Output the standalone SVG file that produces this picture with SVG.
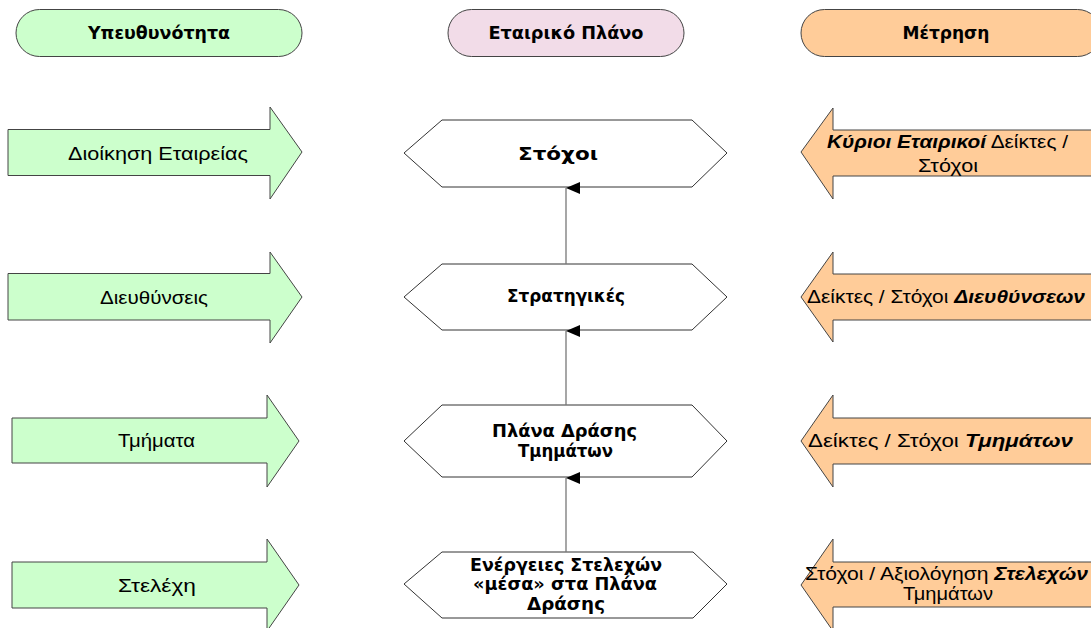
<svg xmlns="http://www.w3.org/2000/svg" width="1091" height="628" viewBox="0 0 1091 628">
<defs>
<marker id="ah" markerWidth="12" markerHeight="14" refX="6" refY="0" orient="auto" markerUnits="userSpaceOnUse" viewBox="0 0 12 14">
<path d="M0,14 L6,0 L12,14 Z" fill="#000"/>
</marker>
<style>
.t{fill:#000;}
.hdr,.hx{font-family:"DejaVu Sans","Liberation Sans",sans-serif;font-size:17px;font-weight:bold;text-anchor:middle;}
.ar{font-family:"Liberation Sans",Arial,sans-serif;font-size:18px;text-anchor:middle;}
.bi{font-weight:bold;font-style:italic;}
.green{fill:#CCFFCC;stroke:#444;stroke-width:1;}
.pink{fill:#F2DCE8;stroke:#444;stroke-width:1;}
.orange{fill:#FFCC99;stroke:#444;stroke-width:1;}
.hex{fill:#fff;stroke:#333;stroke-width:1;}
.conn{stroke:#777;stroke-width:1.3;fill:none;}
</style>
</defs>
<rect width="1091" height="628" fill="#fff"/>

<g id="hdr-responsibility">
<rect class="green" x="16" y="9.5" width="286" height="47" rx="23.5"/>
<text class="t hdr" x="159" y="38.5" textLength="142" lengthAdjust="spacingAndGlyphs">Υπευθυνότητα</text>
</g>
<g id="hdr-plan">
<rect class="pink" x="448" y="9.5" width="236" height="47" rx="23.5"/>
<text class="t hdr" x="566" y="38.5" textLength="155" lengthAdjust="spacingAndGlyphs">Εταιρικό Πλάνο</text>
</g>
<g id="hdr-measure">
<rect class="orange" x="801" y="9.5" width="300" height="47" rx="23.5"/>
<text class="t hdr" x="946" y="38.5" textLength="87" lengthAdjust="spacingAndGlyphs">Μέτρηση</text>
</g>

<g id="resp-1">
<path class="green" d="M8,129.5 H270 V107 L302,152 L270,199 V175.5 H8 Z"/>
<text class="t ar" x="158" y="160" textLength="180" lengthAdjust="spacingAndGlyphs">Διοίκηση Εταιρείας</text>
</g>
<g id="resp-2">
<path class="green" d="M8,273.5 H270 V252 L302,297 L270,343 V320 H8 Z"/>
<text class="t ar" x="154" y="304" textLength="108" lengthAdjust="spacingAndGlyphs">Διευθύνσεις</text>
</g>
<g id="resp-3">
<path class="green" d="M12,418 H267 V395 L299,441 L267,487 V463 H12 Z"/>
<text class="t ar" x="156.5" y="447" textLength="77" lengthAdjust="spacingAndGlyphs">Τμήματα</text>
</g>
<g id="resp-4">
<path class="green" d="M12,562 H267 V539 L299,585 L267,631 V608 H12 Z"/>
<text class="t ar" x="157" y="592" textLength="78" lengthAdjust="spacingAndGlyphs">Στελέχη</text>
</g>

<g id="plan-1">
<path class="hex" d="M404,153 L442,120 H692 L727,153 L692,187 H442 Z"/>
<text class="t hx" x="558" y="160" textLength="80" lengthAdjust="spacingAndGlyphs">Στόχοι</text>
</g>
<g id="plan-2">
<path class="hex" d="M404,297 L442,264 H692 L727,297 L692,330 H442 Z"/>
<text class="t hx" x="566" y="302" textLength="118" lengthAdjust="spacingAndGlyphs">Στρατηγικές</text>
</g>
<g id="plan-3">
<path class="hex" d="M404,441 L442,405 H692 L727,441 L692,477 H442 Z"/>
<text class="t hx" x="564.5" y="437" textLength="145" lengthAdjust="spacingAndGlyphs">Πλάνα Δράσης</text>
<text class="t hx" x="565.5" y="457" textLength="95" lengthAdjust="spacingAndGlyphs">Τμημάτων</text>
</g>
<g id="plan-4">
<path class="hex" d="M404,584 L442,552 H693 L727,584 L693,618 H442 Z"/>
<text class="t hx" x="566" y="571" textLength="192" lengthAdjust="spacingAndGlyphs">Ενέργειες Στελεχών</text>
<text class="t hx" x="565" y="590" textLength="184" lengthAdjust="spacingAndGlyphs">«μέσα» στα Πλάνα</text>
<text class="t hx" x="566" y="610" textLength="78" lengthAdjust="spacingAndGlyphs">Δράσης</text>
</g>

<g id="measure-1">
<path class="orange" d="M801,152 L833,108 V130 H1100 V176 H833 V199 Z"/>
<text class="t ar" x="947.5" y="148" textLength="241" lengthAdjust="spacingAndGlyphs"><tspan class="bi">Κύριοι Εταιρικοί</tspan> Δείκτες /</text>
<text class="t ar" x="948" y="172" textLength="60" lengthAdjust="spacingAndGlyphs">Στόχοι</text>
</g>
<g id="measure-2">
<path class="orange" d="M801,297 L833,252 V274 H1100 V320 H833 V342 Z"/>
<text class="t ar" x="946" y="303" textLength="278" lengthAdjust="spacingAndGlyphs">Δείκτες / Στόχοι <tspan class="bi">Διευθύνσεων</tspan></text>
</g>
<g id="measure-3">
<path class="orange" d="M801,441 L833,395 V418 H1100 V464 H833 V487 Z"/>
<text class="t ar" x="940.5" y="447" textLength="265" lengthAdjust="spacingAndGlyphs">Δείκτες / Στόχοι <tspan class="bi">Τμημάτων</tspan></text>
</g>
<g id="measure-4">
<path class="orange" d="M801,585 L833,539 V562 H1100 V607 H833 V631 Z"/>
<text class="t ar" x="946.5" y="580" textLength="283" lengthAdjust="spacingAndGlyphs">Στόχοι / Αξιολόγηση <tspan class="bi">Στελεχών</tspan></text>
<text class="t ar" x="948" y="600" textLength="90" lengthAdjust="spacingAndGlyphs">Τμημάτων</text>
</g>

<g id="connectors">
<line class="conn" x1="566" y1="264" x2="566" y2="188" marker-end="url(#ah)"/>
<line class="conn" x1="566" y1="405" x2="566" y2="331" marker-end="url(#ah)"/>
<line class="conn" x1="566" y1="552" x2="566" y2="478" marker-end="url(#ah)"/>
</g>
</svg>
